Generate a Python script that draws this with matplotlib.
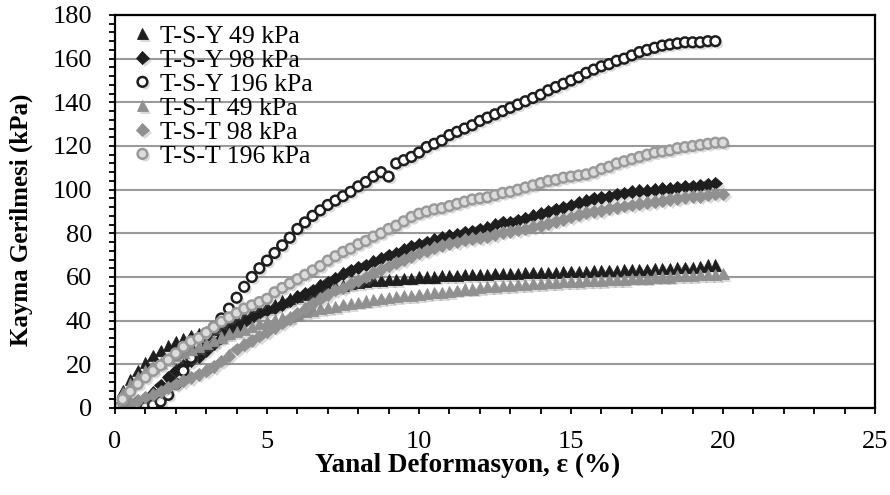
import matplotlib
matplotlib.use("Agg")
import matplotlib.pyplot as plt
import matplotlib.patheffects as pe
from matplotlib.ticker import MultipleLocator

plt.rcParams['font.family'] = ['Liberation Serif', 'DejaVu Serif']

# Strain readings (%)
strain = [0.0, 0.25, 0.5, 0.75, 1.0, 1.25, 1.5, 1.75,
          2.0, 2.25, 2.5, 2.75, 3.0, 3.25, 3.5, 3.75,
          4.0, 4.25, 4.5, 4.75, 5.0, 5.25, 5.5, 5.75,
          6.0, 6.25, 6.5, 6.75, 7.0, 7.25, 7.5, 7.75,
          8.0, 8.25, 8.5, 8.75, 9.0, 9.25, 9.5, 9.75,
          10.0, 10.25, 10.5, 10.75, 11.0, 11.25, 11.5, 11.75,
          12.0, 12.25, 12.5, 12.75, 13.0, 13.25, 13.5, 13.75,
          14.0, 14.25, 14.5, 14.75, 15.0, 15.25, 15.5, 15.75,
          16.0, 16.25, 16.5, 16.75, 17.0, 17.25, 17.5, 17.75,
          18.0, 18.25, 18.5, 18.75, 19.0, 19.25, 19.5, 19.75, 20.0]

# Shear stress (kPa)
tsy_49 = [0, 8, 13, 17, 21, 24, 26.5, 28.5,
          30.5, 32, 33, 34, 35, 36, 37.5, 39,
          40.5, 42, 43.5, 45, 46, 47.5, 49, 50,
          51, 52, 53, 54, 55, 55.5, 56, 57,
          57.5, 58, 58.5, 58.5, 59, 59, 59.5, 59.5,
          60, 60, 60, 60.5, 60.5, 60.5, 61, 61,
          61, 61, 61.5, 61.5, 61.5, 61.5, 62, 62,
          62, 62, 62, 62.5, 62.5, 62.5, 62.5, 63,
          63, 63, 63, 63.5, 63.5, 63.5, 63.5, 64,
          64, 64, 64.5, 64.5, 64.5, 65, 65.5, 65.5]

tsy_98 = [0, 1, 2, 3, 4.5, 7, 10.5, 14,
          17, 19.5, 21.5, 23.5, 26.5, 29.5, 32, 34.5,
          37, 39.5, 41.5, 43.5, 45, 46, 47.5, 49,
          51, 52.5, 54, 56, 57.5, 59.5, 61.5, 63,
          64.5, 65.5, 67, 68.5, 70, 71, 72.5, 74,
          75, 76, 77, 78, 79, 79.5, 80.5, 81,
          82, 82.5, 84, 85, 85, 86, 87, 88,
          89, 90, 91, 92, 93, 94, 95, 96,
          96.5, 97, 98, 98.5, 99, 99.5, 99.5, 100,
          100.5, 100.5, 101, 101.5, 101.5, 102, 102.5, 103]

tsy_196 = [0, 1, 1, 0.5, 0.5, 1.5, 3, 6,
           11, 17, 23, 28.5, 33, 37, 41, 45.5,
           50.5, 55.5, 60, 64, 67.5, 71, 74.5, 78,
           82, 85, 88, 90.5, 93, 95, 97, 99,
           101.5, 103.5, 106, 108, 106, 112, 113.5, 115,
           117, 119.5, 121, 122.5, 125, 126.5, 128, 129.5,
           131.5, 133, 134.5, 136, 137.5, 139, 140.5, 142,
           143.5, 145.5, 147, 148.5, 150, 151.5, 153.5, 155,
           156.5, 157.5, 159, 160, 161.5, 163, 164, 165,
           166, 166.5, 167, 167.5, 167.5, 167.5, 168, 168]

tst_49 = [0, 7, 11, 14.5, 17, 19, 21, 22.5,
          24, 25.5, 27, 28, 29.5, 31, 32.5, 34,
          35, 36, 37.5, 38.5, 39.5, 40.5, 41.5, 42,
          43, 44, 44.5, 45.5, 46, 46.5, 47.5, 48,
          48.5, 49, 49.5, 50, 50.5, 51, 51.5, 51.5,
          52, 52.5, 53, 53, 53.5, 54, 54.5, 54.5,
          55, 55.5, 55.5, 56, 56, 56.5, 56.5, 57,
          57, 57.5, 57.5, 58, 58, 58, 58.5, 58.5,
          58.5, 59, 59, 59, 59.5, 59.5, 59.5, 60,
          60, 60, 60.5, 60.5, 60.5, 61, 61, 61, 61.5]

tst_98 = [0, 1, 2, 3.5, 5, 6, 7.5, 9.5,
          11, 12.5, 14, 15.5, 17, 19, 21.5, 24,
          27, 29, 31, 33, 35, 37, 39, 41,
          43.5, 45.5, 48, 50, 52, 54, 55, 57,
          58.5, 60, 62, 63.5, 65, 66.5, 68, 69.5,
          71, 72, 73.5, 74.5, 75.5, 76, 77, 77.5,
          78, 78.5, 79.5, 80.5, 81, 81.5, 82, 83,
          83.5, 84.5, 85.5, 86.5, 87.5, 88.5, 89.5, 90,
          90.5, 91.5, 92, 92.5, 93, 93.5, 94, 94.5,
          95, 95.5, 96, 96.5, 97, 97, 97.5, 98, 98]

tst_196 = [0, 4, 7.5, 11, 14, 17, 19.5, 22,
           25, 28, 30.5, 32, 34.5, 37, 39.5, 41.5,
           43.5, 45.5, 47, 48.5, 50, 53, 55, 57,
           59, 61, 63, 65, 67.5, 69.5, 71.5, 73,
           75, 76.5, 78.5, 80, 82, 83.5, 85.5, 87.5,
           89, 90, 91, 91.5, 92.5, 93.5, 94.5, 95.5,
           96, 96.5, 97.5, 98.5, 99, 100, 101, 102,
           103, 104, 104.5, 105.5, 106, 106.5, 107, 108,
           109.5, 110.5, 112, 113, 114, 115, 116, 117,
           117.5, 118, 119, 119.5, 120, 120.5, 121, 121.5, 121.5]

labels = ['T-S-Y 49 kPa', 'T-S-Y 98 kPa', 'T-S-Y 196 kPa',
          'T-S-T 49 kPa', 'T-S-T 98 kPa', 'T-S-T 196 kPa']
series = [tsy_49, tsy_98, tsy_196, tst_49, tst_98, tst_196]

styles = [
    dict(marker='^', ms=8, mfc='#1e1e1e', mec='#1e1e1e', mew=0.6),
    dict(marker='D', ms=6.5, mfc='#1e1e1e', mec='#1e1e1e', mew=0.6),
    dict(marker='o', ms=7, mfc='white', mec='#1e1e1e', mew=1.8),
    dict(marker='^', ms=8, mfc='#909090', mec='#909090', mew=0.6),
    dict(marker='D', ms=6.5, mfc='#909090', mec='#909090', mew=0.6),
    dict(marker='o', ms=7, mfc='#dcdcdc', mec='#9a9a9a', mew=1.8),
]

shadow = [pe.SimplePatchShadow(offset=(2, -2), shadow_rgbFace='0.45', alpha=0.25),
          pe.Normal()]

fig, ax = plt.subplots(figsize=(8.9, 4.95), dpi=100)
fig.subplots_adjust(left=0.1292, right=0.9831, top=0.9697, bottom=0.1758)

for vals, lab, st in zip(series, labels, styles):
    ax.plot(strain[:len(vals)], vals, linestyle='none', label=lab,
            path_effects=shadow, **st)

ax.set_xlim(0, 25)
ax.set_ylim(0, 180)
ax.xaxis.set_major_locator(MultipleLocator(5))
ax.xaxis.set_minor_locator(MultipleLocator(1))
ax.yaxis.set_major_locator(MultipleLocator(20))
ax.yaxis.set_minor_locator(MultipleLocator(4))

ax.grid(axis='y', which='major', color='#9a9a9a', linewidth=1.5)
ax.set_axisbelow(True)

for s in ax.spines.values():
    s.set_linewidth(1.6)
    s.set_color('black')

ax.tick_params(which='both', direction='out', length=4.5, width=1.3,
               labelsize=19, color='black')
ax.tick_params(axis='x', which='major', pad=12)
ax.tick_params(axis='y', which='major', pad=12)

ax.set_xlabel('Yanal Deformasyon, ε (%)', fontsize=19.5, fontweight='bold')
ax.set_ylabel('Kayma Gerilmesi (kPa)', fontsize=18, fontweight='bold')
ax.xaxis.set_label_coords(0.4645, -0.115)
ax.yaxis.set_label_coords(-0.108, 0.478)

ax.legend(loc='upper left', bbox_to_anchor=(0.026, 0.975), frameon=False,
          fontsize=18.5, numpoints=1, handlelength=0.6, handletextpad=0.4,
          labelspacing=0.04, borderaxespad=0, borderpad=0)

fig.savefig('out.png', dpi=100)
